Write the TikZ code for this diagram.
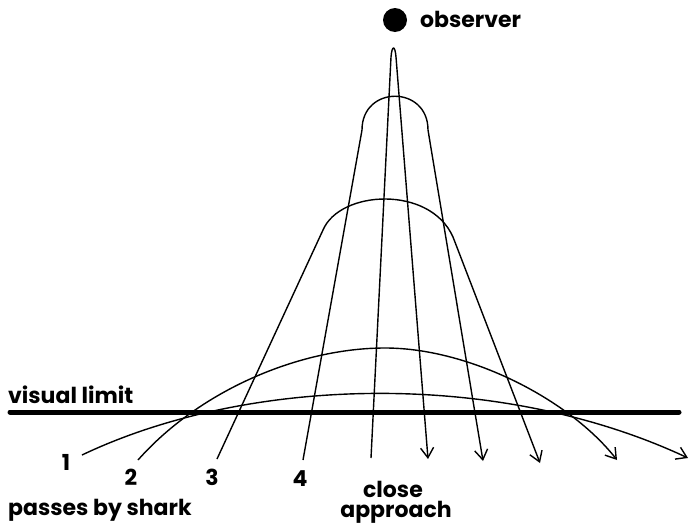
\documentclass[tikz,border=0pt]{standalone}
\usepackage{fontspec}
\setmainfont{Poppins}
\usetikzlibrary{arrows.meta}
\begin{document}
\begin{tikzpicture}[x=1pt,y=-1pt,
  path/.style={line width=1.4pt,line join=round},
  arr/.style={path,-{Straight Barb[length=10pt,width=13pt,line width=1.4pt]}},
  lbl/.style={inner sep=0pt,font=\fontsize{22}{24}\selectfont\bfseries}]
\useasboundingbox (0,0) rectangle (691,525);
% visual limit
\coordinate (vl1) at (10,412);
\coordinate (vl2) at (679,412);
\draw[line width=5pt,line cap=round] (vl1) -- (vl2);
% observer
\fill (395,20) circle[radius=12];
\node[lbl,anchor=base west] (obs) at (420,27) {observer};
% path close approach
\coordinate (c0) at (371,458);
\coordinate (c1) at (391,57);
\coordinate (c2) at (396,57);
\coordinate (c3) at (428,459);
\draw[arr] (c0) -- (c1) .. controls (392,45) and (395,45) .. (c2) -- (c3);
% path 4
\coordinate (d0) at (303,460);
\coordinate (d1) at (362,130);
\coordinate (d2) at (428,130);
\coordinate (d3) at (483,461);
\draw[arr] (d0) -- (d1) .. controls (362,85) and (428,85) .. (d2) -- (d3);
% path 3
\coordinate (e0) at (217,459);
\coordinate (e1) at (323,230);
\coordinate (e2) at (453,237);
\coordinate (e3) at (540,463);
\draw[arr] (e0) -- (e1) .. controls (340,190) and (430,185) .. (e2) -- (e3);
% path 2
\coordinate (f0) at (138,460);
\coordinate (f1) at (385,348);
\coordinate (f2) at (617,460);
\draw[arr] (f0) .. controls (200,390) and (300,348) .. (f1) .. controls (470,348) and (570,400) .. (f2);
% path 1
\coordinate (g0) at (82,455);
\coordinate (g1) at (688,458);
\draw[arr] (g0) .. controls (250,375) and (500,370) .. (g1);
% labels
\node[lbl,anchor=base west] (vl) at (8,403) {visual limit};
\node[lbl,anchor=base] (n1) at (66,470) {1};
\node[lbl,anchor=base] (n2) at (131,485) {2};
\node[lbl,anchor=base] (n3) at (212,485) {3};
\node[lbl,anchor=base] (n4) at (300,486) {4};
\node[lbl,anchor=base west] (pbs) at (8,515) {passes by shark};
\node[lbl,anchor=base] (cl) at (393,497) {close};
\node[lbl,anchor=base] (ap) at (396,517) {approach};
\end{tikzpicture}
\end{document}
